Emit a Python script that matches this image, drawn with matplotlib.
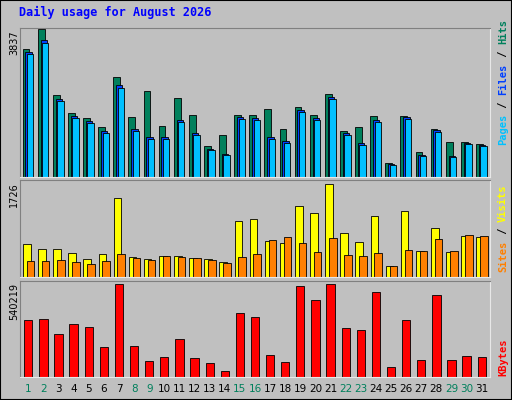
import matplotlib
matplotlib.use("Agg")
import matplotlib.pyplot as plt
from matplotlib.patches import Rectangle

days = list(range(1, 32))
weekend = {1, 2, 8, 9, 15, 16, 22, 23, 29, 30}

hits = [3319, 3837, 2126, 1659, 1530, 1296, 2593, 1556, 2230, 1322, 2048, 1608, 804, 1089, 1608,
        1608, 1763, 1245, 1815, 1608, 2152, 1193, 1296, 1582, 363, 1582, 648, 1245, 907, 907, 856]
files = [3260, 3560, 2040, 1590, 1460, 1200, 2400, 1250, 1030, 1040, 1490, 1140, 740, 600, 1560,
         1540, 1040, 930, 1750, 1530, 2080, 1140, 880, 1480, 330, 1560, 580, 1210, 550, 890, 830]
pages = [3190, 3475, 1971, 1530, 1400, 1141, 2308, 1193, 985, 985, 1426, 1089, 700, 570, 1504,
         1478, 985, 882, 1686, 1478, 2023, 1089, 830, 1426, 311, 1504, 545, 1167, 519, 856, 804]
visits = [618, 527, 509, 436, 327, 418, 1454, 363, 327, 382, 382, 345, 327, 273, 1036,
          1072, 672, 636, 1308, 1181, 1726, 818, 654, 1127, 200, 1218, 472, 909, 454, 763, 745]
sites = [291, 291, 309, 273, 236, 291, 418, 345, 309, 382, 363, 345, 309, 254, 363,
         418, 690, 745, 636, 454, 727, 400, 382, 436, 200, 491, 472, 709, 472, 781, 763]
kbytes = [331000, 337000, 250000, 308000, 290000, 174000, 540219, 180000, 93000, 116000, 221000,
          110000, 81000, 35000, 372000, 349000, 128000, 87000, 529000, 447000, 540000, 285000,
          273000, 494000, 58000, 331000, 99000, 476000, 99000, 122000, 116000]

W, H = 512, 400
fig = plt.figure(figsize=(W / 100, H / 100), dpi=100, facecolor="#C0C0C0")
fig.patches.append(Rectangle((0, 0), 1, 1, transform=fig.transFigure, fill=False,
                             edgecolor="black", lw=1.5))
fig.text(19 / W, 1 - 12 / H, "Daily usage for August 2026", color="#0000FF",
         fontsize=8.5, fontweight="bold", family="DejaVu Sans Mono", va="center")


def panel(top, bottom):
    ax = fig.add_axes([20 / W, 1 - bottom / H, 470 / W, (bottom - top) / H])
    ax.set_facecolor("#C0C0C0")
    ax.set_xlim(0.45, 31.55)
    ax.set_xticks([])
    ax.set_yticks([])
    for s in ax.spines.values():
        s.set_color("#E8E8E8")
    ax.spines["left"].set_color("#808080")
    ax.spines["top"].set_color("#808080")
    return ax


def side_labels(bottom, parts):
    # right multi-coloured legend, bottom-to-top
    y = bottom
    for text, color in parts:
        fig.text(503 / W, 1 - y / H, text, color=color, rotation=90, fontsize=7.5,
                 family="DejaVu Sans Mono", fontweight="bold", ha="center", va="bottom")
        y -= len(text) * 6.3


x = days
ax1 = panel(28, 177)
ax1.bar([d - 0.15 for d in x], hits, width=0.45, color="#00805C", edgecolor="black", lw=0.6)
ax1.bar([d + 0.02 for d in x], files, width=0.42, color="#0040FF", edgecolor="black", lw=0.6)
ax1.bar([d + 0.12 for d in x], pages, width=0.42, color="#00C0FF", edgecolor="black", lw=0.6)
ax1.set_ylim(0, max(hits) * 1.01)
fig.text(14 / W, 1 - 30 / H, str(max(hits)), rotation=90, fontsize=7, ha="center", va="top")
side_labels(145, [("Pages", "#00C0FF"), (" / ", "black"), ("Files", "#0040FF"),
                  (" / ", "black"), ("Hits", "#00805C")])

ax2 = panel(180, 277)
ax2.bar([d - 0.1 for d in x], visits, width=0.5, color="#FFFF00", edgecolor="black", lw=0.6)
ax2.bar([d + 0.15 for d in x], sites, width=0.5, color="#FF8000", edgecolor="black", lw=0.6)
ax2.set_ylim(0, max(visits) * 1.04)
fig.text(14 / W, 1 - 182 / H, str(max(visits)), rotation=90, fontsize=7, ha="center", va="top")
side_labels(272, [("Sites", "#FF8000"), (" / ", "black"), ("Visits", "#FFFF00")])

ax3 = panel(281, 377)
ax3.bar(x, kbytes, width=0.55, color="#FF0000", edgecolor="black", lw=0.6)
ax3.set_ylim(0, max(kbytes) * 1.03)
fig.text(14 / W, 1 - 283 / H, str(max(kbytes)), rotation=90, fontsize=7, ha="center", va="top")
side_labels(376, [("KBytes", "#FF0000")])

for d in days:
    xf = (20 + (d - 0.45) / 31.1 * 470) / W
    fig.text(xf, 1 - 389 / H, str(d), fontsize=7.5, ha="center", va="center",
             color="#00805C" if d in weekend else "black")

fig.savefig("out.png", dpi=100, facecolor=fig.get_facecolor())
